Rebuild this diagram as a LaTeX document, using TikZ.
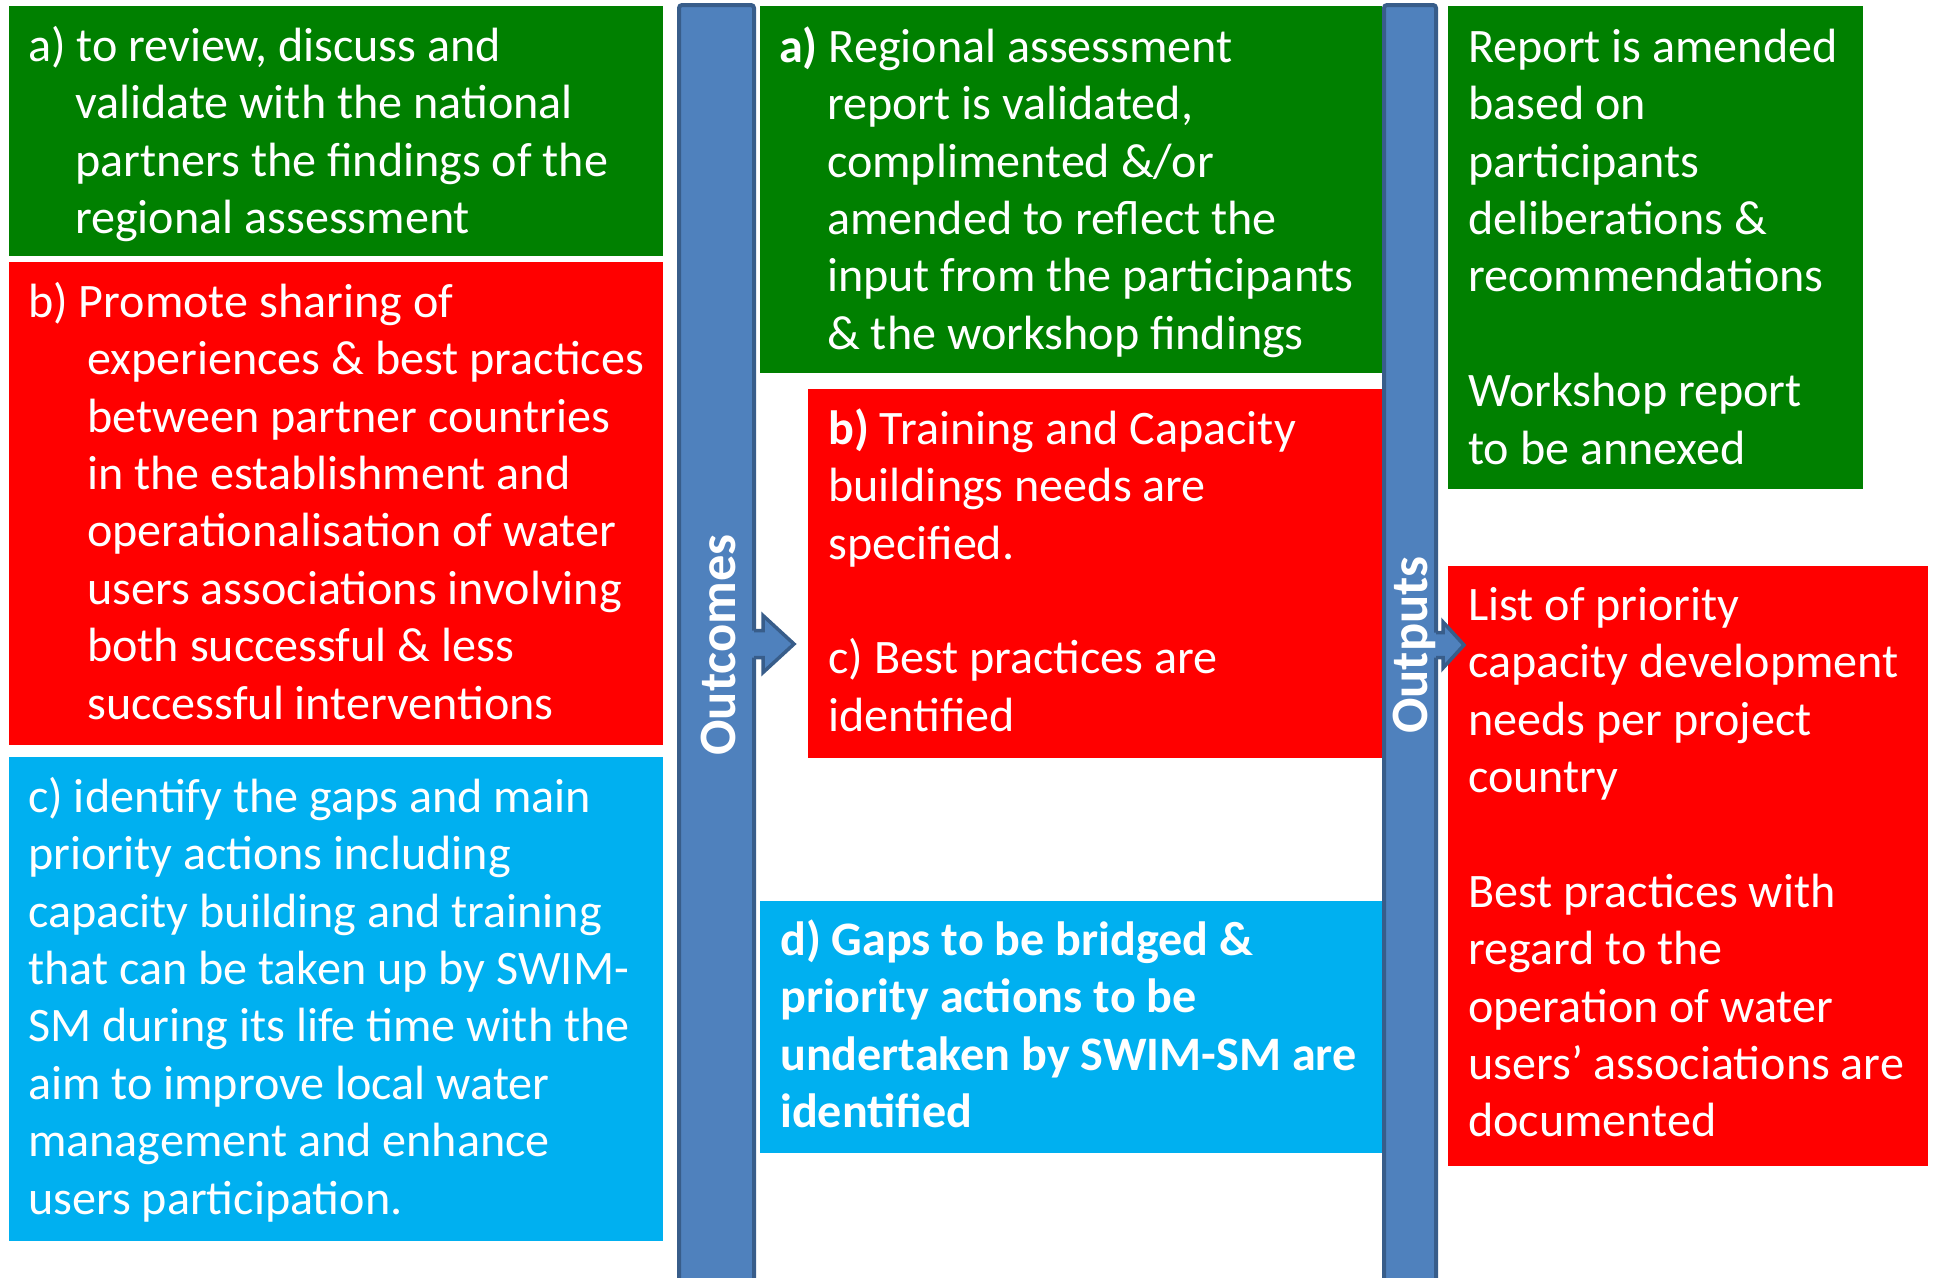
\documentclass[tikz,border=0pt]{standalone}
\usepackage{fontspec}
\setmainfont{Carlito}
\definecolor{cgreen}{RGB}{0,128,0}
\definecolor{cred}{RGB}{255,0,0}
\definecolor{cblue}{RGB}{0,176,240}
\definecolor{barfill}{RGB}{79,129,189}
\definecolor{barline}{RGB}{56,93,138}
\begin{document}
\begin{tikzpicture}[x=1pt,y=-1pt,
  panel/.style={anchor=north west, inner sep=0pt, outer sep=0pt},
  bodytext/.style={anchor=north west, inner sep=0pt, align=left, text=white, font=\fontsize{48.1}{57.4}\selectfont},
  bar/.style={anchor=north west, inner sep=0pt, outer sep=0pt, fill=barfill, draw=barline, line width=4pt, rounded corners=3pt},
  barlabel/.style={rotate=90, text=white, inner sep=0pt, font=\bfseries\fontsize{52.5}{60}\selectfont},
  arrowfill/.style={fill=barfill},
  arrowline/.style={draw=barline, line width=3.5pt, line join=miter}
]
\useasboundingbox (0,0) rectangle (1937,1277);
\fill[white] (0,0) rectangle (1937,1277);

% panels
\node[panel, fill=cgreen, minimum width=654pt, minimum height=250pt] (la) at (9,6) {};
\node[panel, fill=cred, minimum width=654pt, minimum height=483pt] (lb) at (9,262) {};
\node[panel, fill=cblue, minimum width=654pt, minimum height=484pt] (lc) at (9,757) {};
\node[panel, fill=cgreen, minimum width=622pt, minimum height=367pt] (ma) at (760,6) {};
\node[panel, fill=cred, minimum width=574pt, minimum height=369pt] (mb) at (808,389) {};
\node[panel, fill=cblue, minimum width=622pt, minimum height=252pt] (md) at (760,901) {};
\node[panel, fill=cgreen, minimum width=415pt, minimum height=483pt] (ra) at (1448,6) {};
\node[panel, fill=cred, minimum width=480pt, minimum height=600pt] (rb) at (1448,566) {};

% bars
\node[bar, minimum width=75pt, minimum height=1300pt] (outcomes) at (679,5) {};
\node[bar, minimum width=52pt, minimum height=1300pt] (outputs) at (1384,5) {};

% block arrows
\coordinate (oca) at (outcomes.north east |- 0,644);
\coordinate (opa) at (outputs.north east |- 0,645);
\begin{scope}[shift={(oca)}]
  \fill[arrowfill] (-6,-13.5) -- (9,-13.5) -- (9,-28.5) -- (40,0) -- (9,28.5) -- (9,13.5) -- (-6,13.5) -- cycle;
  \draw[arrowline] (0,-13.5) -- (9,-13.5) -- (9,-28.5) -- (40,0) -- (9,28.5) -- (9,13.5) -- (0,13.5);
\end{scope}
\begin{scope}[shift={(opa)}]
  \fill[arrowfill] (-6,-12.5) -- (7,-12.5) -- (7,-23) -- (28,0) -- (7,23) -- (7,12.5) -- (-6,12.5) -- cycle;
  \draw[arrowline] (0,-12.5) -- (7,-12.5) -- (7,-23) -- (28,0) -- (7,23) -- (7,12.5) -- (0,12.5);
\end{scope}

% bar labels
\node[barlabel] (outcomeslbl) at (718.5,645) {Outcomes};
\node[barlabel] (outputslbl) at (1414,645) {Outputs};

% texts
\node[bodytext] (ta) at (28,21) {\rule{0pt}{40pt}a) to review, discuss and\\
\hspace*{47pt}validate with the national\\
\hspace*{47pt}partners the findings of the\\
\hspace*{47pt}regional assessment};

\node[bodytext] (tb) at (28,277) {\rule{0pt}{40pt}b) Promote sharing of\\
\hspace*{59pt}experiences \& best practices\\
\hspace*{59pt}between partner countries\\
\hspace*{59pt}in the establishment and\\
\hspace*{59pt}operationalisation of water\\
\hspace*{59pt}users associations involving\\
\hspace*{59pt}both successful \& less\\
\hspace*{59pt}successful interventions};

\node[bodytext] (tc) at (28,772) {\rule{0pt}{40pt}c) identify the gaps and main\\
priority actions including\\
capacity building and training\\
that can be taken up by SWIM-\\
SM during its life time with the\\
aim to improve local water\\
management and enhance\\
users participation.};

\node[bodytext] (tma) at (779,22) {\rule{0pt}{40pt}\textbf{a)} Regional assessment\\
\hspace*{48pt}report is validated,\\
\hspace*{48pt}complimented \&/or\\
\hspace*{48pt}amended to reflect the\\
\hspace*{48pt}input from the participants\\
\hspace*{48pt}\& the workshop findings};

\node[bodytext] (tmb) at (828,404) {\rule{0pt}{40pt}\textbf{b)} Training and Capacity\\
buildings needs are\\
specified.\\[57.4pt]
c) Best practices are\\
identified};

\node[bodytext, font=\bfseries\fontsize{48.1}{57.4}\selectfont] (tmd) at (780,915) {\rule{0pt}{40pt}d) Gaps to be bridged \&\\
priority actions to be\\
undertaken by SWIM-SM are\\
identified};

\node[bodytext] (tra) at (1468,22) {\rule{0pt}{40pt}Report is amended\\
based on\\
participants\\
deliberations \&\\
recommendations\\[57.4pt]
Workshop report\\
to be annexed};

\node[bodytext] (trb) at (1468,580) {\rule{0pt}{40pt}List of priority\\
capacity development\\
needs per project\\
country\\[57.4pt]
Best practices with\\
regard to the\\
operation of water\\
users’ associations are\\
documented};
\end{tikzpicture}
\end{document}
